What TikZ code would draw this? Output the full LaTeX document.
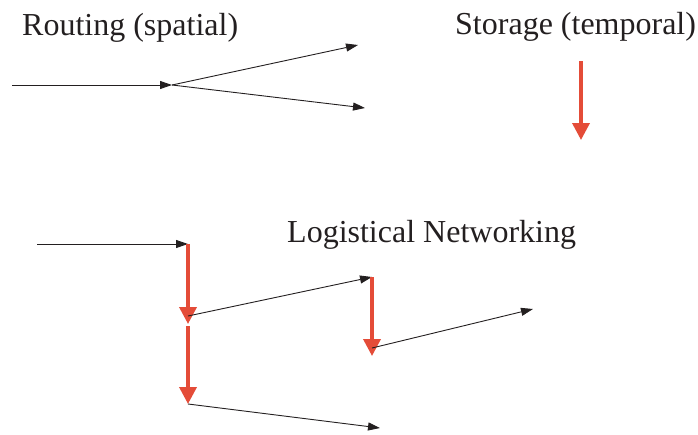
\documentclass[tikz,border=0pt]{standalone}
\usepackage{fontspec}
\setmainfont{Liberation Serif}
\usetikzlibrary{arrows.meta}
\definecolor{storered}{RGB}{228,76,56}
\definecolor{inkgray}{RGB}{35,31,32}
\tikzset{
  title/.style={anchor=base west,inner sep=0pt,text=inkgray,font=\fontsize{32}{38}\selectfont},
  route/.style={draw=inkgray,line width=0.9pt,-{Triangle[length=12pt,width=8pt]}},
  hold/.style={draw=storered,line width=3.6pt,-{Triangle[length=17pt,width=17pt]}}
}
\begin{document}
\begin{tikzpicture}[x=1pt,y=-1pt]
  \useasboundingbox (0,0) rectangle (698,434);
  % routing (spatial)
  \node[title] (routing) at (22,35) {Routing (spatial)};
  \coordinate (rin) at (12,85);
  \coordinate (rsplit) at (172,85);
  \coordinate (rup) at (358,45);
  \coordinate (rdown) at (365,108);
  \draw[route] (rin) -- (rsplit);
  \draw[route] (rsplit) -- (rup);
  \draw[route] (rsplit) -- (rdown);
  % storage (temporal)
  \node[title] (storage) at (455,34) {Storage (temporal)};
  \coordinate (stop) at (581,61);
  \coordinate (sbot) at (581,140);
  \draw[hold] (stop) -- (sbot);
  % logistical networking
  \node[title] (logistical) at (287,242) {Logistical Networking};
  \coordinate (lin) at (37,244);
  \coordinate (la) at (188,244);
  \coordinate (lb) at (188,324);
  \coordinate (lc) at (188,404);
  \coordinate (ld) at (372,277);
  \coordinate (le) at (372,356);
  \coordinate (lout1) at (533,309);
  \coordinate (lout2) at (380,428);
  \draw[route] (lin) -- (la);
  \draw[hold] (la) -- (lb);
  \draw[hold] ([yshift=-2pt]lb) -- (lc);
  \draw[route] ([yshift=8pt]lb) -- (ld);
  \draw[hold] (ld) -- (le);
  \draw[route] ([yshift=8pt]le) -- (lout1);
  \draw[route] (lc) -- (lout2);
\end{tikzpicture}
\end{document}
